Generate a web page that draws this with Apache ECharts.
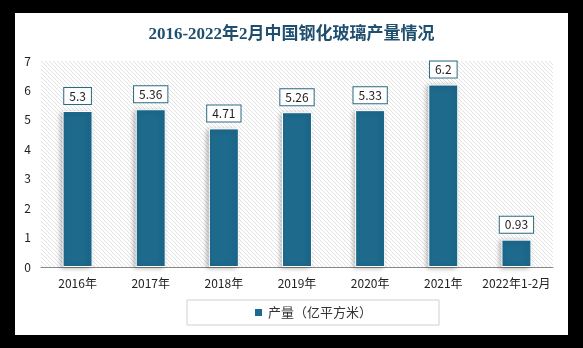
<!DOCTYPE html>
<html>
<head>
<meta charset="utf-8">
<script src="https://cdn.jsdelivr.net/npm/echarts@6/dist/echarts.min.js"></script>
<style>
html,body{margin:0;padding:0;background:#000;}
#wrap{position:relative;width:583px;height:348px;background:#000;overflow:hidden;}
#panel{position:absolute;left:15px;top:13px;width:553px;height:322px;background:#fff;}
#chart{position:absolute;left:0;top:0;width:583px;height:348px;}
</style>
</head>
<body>
<div id="wrap"><div id="panel"></div><div id="chart"></div></div>
<script>
const titleText = '2016-2022年2月中国钢化玻璃产量情况';
const categories = ['2016年','2017年','2018年','2019年','2020年','2021年','2022年1-2月'];
const seriesName = '产量（亿平方米）';
const values = [5.3, 5.36, 4.71, 5.26, 5.33, 6.2, 0.93];

const cv = document.createElement('canvas');
cv.width = 4; cv.height = 4;
const cx = cv.getContext('2d');
cx.fillStyle = '#e2e2e2';
for (let i = 0; i < 4; i++) cx.fillRect(i, i, 1, 1);

const chart = echarts.init(document.getElementById('chart'), null, {renderer: 'canvas'});
chart.setOption({
  backgroundColor: 'transparent',
  animation: false,
  title: {
    text: titleText,
    left: 'center',
    top: 21,
    textStyle: {fontSize: 17, fontWeight: 'bold', color: '#1f4f6e', fontFamily: '"Liberation Serif","Noto Sans CJK SC",serif'}
  },
  grid: {
    left: 41, right: 30, top: 61, bottom: 81,
    show: true,
    borderWidth: 0,
    backgroundColor: {image: cv, repeat: 'repeat'}
  },
  legend: {
    data: [seriesName],
    left: 187, top: 300,
    padding: [6, 67, 6, 66],
    borderColor: '#d0d0d0', borderWidth: 1,
    icon: 'rect', itemWidth: 9, itemHeight: 9, itemGap: 5,
    textStyle: {fontSize: 13, color: '#333', fontFamily: '"Noto Sans CJK SC",sans-serif'}
  },
  xAxis: {
    type: 'category',
    data: categories,
    axisLine: {lineStyle: {color: '#888', width: 1}},
    axisTick: {show: false},
    axisLabel: {interval: 0, fontSize: 12, color: '#222', margin: 10, fontFamily: '"Noto Sans CJK SC",sans-serif'}
  },
  yAxis: {
    type: 'value',
    min: 0, max: 7, interval: 1,
    axisLine: {show: false},
    axisTick: {show: false},
    splitLine: {show: false},
    axisLabel: {fontSize: 12, color: '#222', margin: 10, fontFamily: '"Noto Sans CJK SC",sans-serif'}
  },
  series: [{
    name: seriesName,
    type: 'bar',
    data: values,
    barWidth: '41%',
    itemStyle: {
      color: '#1d6a8d',
      borderColor: '#ffffff', borderWidth: 1,
      shadowColor: 'rgba(0,0,0,0.3)', shadowBlur: 5, shadowOffsetX: -2, shadowOffsetY: 1
    },
    label: {
      show: true,
      position: 'top',
      distance: 7,
      color: '#222',
      fontSize: 12,
      fontFamily: '"Noto Sans CJK SC",sans-serif',
      backgroundColor: '#fff',
      borderColor: '#2a6a80',
      borderWidth: 1,
      padding: [2, 5, 2, 5]
    }
  }]
});
</script>
</body>
</html>
